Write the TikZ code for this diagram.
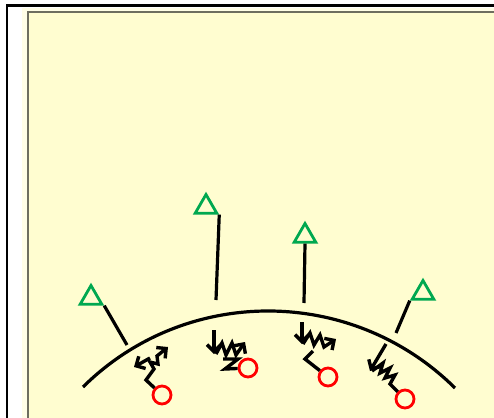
\documentclass[tikz,border=0pt]{standalone}
\usepackage{tikz}
\usetikzlibrary{arrows.meta,shapes.geometric}
\definecolor{paper}{RGB}{255,253,208}
\definecolor{paperlight}{RGB}{255,254,230}
\definecolor{leaf}{RGB}{0,168,80}
\definecolor{edge}{RGB}{110,110,95}

\begin{document}
\begin{tikzpicture}[x=0.5pt,y=-0.5pt,
  tri/.style={draw=leaf,regular polygon,regular polygon sides=3,minimum size=12.5pt,inner sep=0pt,line width=1.4pt},
  dot/.style={draw=red,circle,minimum size=9pt,inner sep=0pt,line width=1.4pt},
  rod/.style={line width=1.6pt},
  coil/.style={line width=1.7pt},
  tip/.style={-{Straight Barb[length=3.5pt,width=7pt]}}
]
\useasboundingbox (0,0) rectangle (494,418);
% sheet
\fill[white] (0,0) rectangle (494,418);
\fill[paperlight] (22,8) rectangle (494,418);
\fill[paper] (28,12) rectangle (494,418);
\draw[edge,line width=1.1pt] (28,418) -- (28,12) -- (494,12);
\draw[line width=1.3pt] (7,418) -- (7,5.5) -- (494,5.5);

% surface
\coordinate (sl) at (83,387);
\coordinate (sr) at (455,388);
\draw[rod] (sl) .. controls (186,285) and (352,286) .. (sr);

% outside
\node[tri] (t1) at (91,298) {};
\node[tri] (t2) at (206,207) {};
\node[tri] (t3) at (305,236) {};
\node[tri] (t4) at (423,293) {};
\coordinate (e1) at (127,345);
\coordinate (e2) at (216,300);
\coordinate (e3) at (304,303);
\coordinate (e4) at (396,333);
\draw[rod] (t1.corner 3) -- (e1);
\draw[rod] (t2.corner 3) -- (e2);
\draw[rod] (t3.south) -- (e3);
\draw[rod] (t4.corner 2) -- (e4);

% inside
\node[dot] (c1) at (162,395) {};
\node[dot] (c2) at (248,368) {};
\node[dot] (c3) at (328,377) {};
\node[dot] (c4) at (405,399) {};

\draw[coil,tip] (150,358) -- (134,367);
\draw[coil,tip] (c1) -- (146,380) -- (154,369) -- (150,362) -- (158,364) -- (157,356) -- (168,347);

\draw[coil,tip] (214,330) -- (214,354);
\draw[coil,tip] (216,354) -- (222,343) -- (226,355) -- (232,343) -- (236,355) -- (245,342);
\draw[coil] (223,359) -- (238,359) -- (225,369) -- (c2);

\draw[coil,tip] (302,322) -- (302,344);
\draw[coil,tip] (303,344) -- (310,333) -- (314,345) -- (320,335) -- (324,347) -- (336,339);
\draw[coil] (313,351) -- (305,359) -- (c3);

\draw[coil,tip] (386,344) -- (370,371);
\draw[coil] (372,371) -- (383,363) -- (380,373) -- (390,368) -- (385,378) -- (395,375) -- (390,384) -- (c4);
\end{tikzpicture}
\end{document}
